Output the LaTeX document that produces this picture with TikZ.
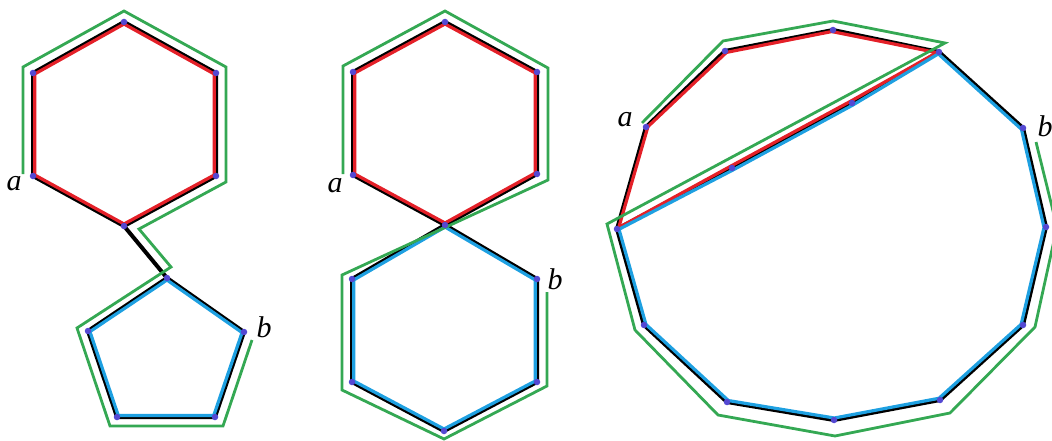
\documentclass[tikz,border=0pt]{standalone}
\usepackage{fontspec}
\setmainfont{Liberation Serif}
\usetikzlibrary{calc}
\definecolor{myred}{RGB}{228,32,40}
\definecolor{myblue}{RGB}{30,160,225}
\definecolor{mygreen}{RGB}{52,168,83}
\definecolor{dotc}{RGB}{84,72,210}
\begin{document}
\begin{tikzpicture}[x=1pt,y=-1pt,
  edge/.style={line width=4pt,black,line join=round,line cap=round},
  redp/.style={line width=3.2pt,myred,line join=round},
  bluep/.style={line width=3.2pt,myblue,line join=round},
  greenp/.style={line width=2.8pt,mygreen,line join=miter},
  vtx/.style={circle,fill=dotc,inner sep=0pt,minimum size=6.5pt},
  lab/.style={inner sep=0pt,font=\fontsize{30}{30}\selectfont\itshape}]
\useasboundingbox (0,0) rectangle (1052,441);
\clip (0,0) rectangle (1052,441);
% ---------- panel 1 ----------
\coordinate (T1) at (124,22);
\coordinate (UL1) at (33,73);
\coordinate (a1) at (33,176);
\coordinate (B1) at (124,226);
\coordinate (LR1) at (216,176);
\coordinate (UR1) at (216,73);
\coordinate (P1) at (167,278);
\coordinate (Pl) at (88,331);
\coordinate (Pbl) at (117,417);
\coordinate (Pbr) at (215,417);
\coordinate (b1) at (244,332);
\coordinate (cA) at (124.5,124.5);
\coordinate (cB) at (166,355);
% ---------- panel 2 ----------
\coordinate (T2) at (445,22);
\coordinate (UL2) at (353,72);
\coordinate (a2) at (353,175);
\coordinate (S) at (445,225);
\coordinate (LR2) at (537,174);
\coordinate (UR2) at (537,72);
\coordinate (LUL) at (352,279);
\coordinate (LLL) at (352,382);
\coordinate (LB) at (444,431);
\coordinate (LLR) at (537,382);
\coordinate (b2) at (537,279);
\coordinate (cC) at (445,124);
\coordinate (cD) at (445,329);
% ---------- panel 3 ----------
\coordinate (a3) at (646,127);
\coordinate (TL3) at (725,51);
\coordinate (Tp3) at (833,30);
\coordinate (TR3) at (939,52);
\coordinate (b3) at (1023,128);
\coordinate (R3) at (1046,227);
\coordinate (LR3) at (1023,325);
\coordinate (BR3) at (940,400);
\coordinate (Bt3) at (834,420);
\coordinate (BL3) at (727,402);
\coordinate (LL3) at (644,325);
\coordinate (L3) at (617,229);
\coordinate (c1) at (732,168);
\coordinate (c2) at (852,103);
\coordinate (cE) at (775,100);
\coordinate (cF) at (860,265);

% black edges
\draw[edge] (a1)--(UL1)--(T1)--(UR1)--(LR1)--(B1)--cycle;
\draw[edge] (B1)--(P1);
\draw[edge] (P1)--(Pl)--(Pbl)--(Pbr)--(b1)--cycle;
\draw[edge] (a2)--(UL2)--(T2)--(UR2)--(LR2)--(S)--cycle;
\draw[edge] (S)--(LUL)--(LLL)--(LB)--(LLR)--(b2)--cycle;
\draw[edge] (a3)--(TL3)--(Tp3)--(TR3)--(b3)--(R3)--(LR3)--(BR3)--(Bt3)--(BL3)--(LL3)--(L3)--cycle;
\draw[edge] (L3)--(c1)--(c2)--(TR3);

% red and blue cycles
\draw[redp] ($(a1)!2pt!(cA)$)--($(UL1)!2pt!(cA)$)--($(T1)!2pt!(cA)$)--($(UR1)!2pt!(cA)$)--($(LR1)!2pt!(cA)$)--($(B1)!2pt!(cA)$)--cycle;
\draw[bluep] ($(P1)!2pt!(cB)$)--($(Pl)!2pt!(cB)$)--($(Pbl)!2pt!(cB)$)--($(Pbr)!2pt!(cB)$)--($(b1)!2pt!(cB)$)--cycle;
\draw[redp] ($(a2)!2pt!(cC)$)--($(UL2)!2pt!(cC)$)--($(T2)!2pt!(cC)$)--($(UR2)!2pt!(cC)$)--($(LR2)!2pt!(cC)$)--($(S)!2pt!(cC)$)--cycle;
\draw[bluep] ($(S)!2pt!(cD)$)--($(LUL)!2pt!(cD)$)--($(LLL)!2pt!(cD)$)--($(LB)!2pt!(cD)$)--($(LLR)!2pt!(cD)$)--($(b2)!2pt!(cD)$)--cycle;
\draw[redp] ($(a3)!2pt!(cE)$)--($(TL3)!2pt!(cE)$)--($(Tp3)!2pt!(cE)$)--($(TR3)!2.2pt!(cE)$)--($(c2)!2.2pt!90:(TR3)$)--($(c1)!2.2pt!90:(TR3)$)--($(L3)!2.2pt!(cE)$)--cycle;
\draw[bluep] ($(TR3)!2pt!(cF)$)--($(b3)!2pt!(cF)$)--($(R3)!2pt!(cF)$)--($(LR3)!2pt!(cF)$)--($(BR3)!2pt!(cF)$)--($(Bt3)!2pt!(cF)$)--($(BL3)!2pt!(cF)$)--($(LL3)!2pt!(cF)$)--($(L3)!2pt!(cF)$)--($(c1)!2.2pt!-90:(TR3)$)--($(c2)!2.2pt!-90:(TR3)$)--cycle;

% green walks
\draw[greenp] (23,174)--(23,67)--(124,11)--(226,67)--(226,182)--(139,229)--(171,267)--(77,328)--(110,426)--(223,426)--(252,340);
\draw[greenp] (343,174)--(343,66)--(445,11)--(548,68)--(548,180)--(342,275)--(342,390)--(444,439)--(547,386)--(547,292);
\draw[greenp] (642,123)--(723,41)--(833,21)--(945,43)--(607,224)--(635,330)--(718,415)--(835,436)--(950,413)--(1035,327)--(1057,227)--(1036,142);

% vertex dots
\foreach \v in {T1,UL1,a1,B1,LR1,UR1,P1,Pl,Pbl,Pbr,b1,T2,UL2,a2,S,LR2,UR2,LUL,LLL,LB,LLR,b2,a3,TL3,Tp3,TR3,b3,R3,LR3,BR3,Bt3,BL3,LL3,L3,c1,c2}
  \node[vtx] (d\v) at (\v) {};

% labels
\node[lab] (la1) at (14,184) {a};
\node[lab] (lb1) at (264,327) {b};
\node[lab] (la2) at (335,186) {a};
\node[lab] (lb2) at (555,279) {b};
\node[lab] (la3) at (625,120) {a};
\node[lab] (lb3) at (1045,126) {b};
\end{tikzpicture}
\end{document}
